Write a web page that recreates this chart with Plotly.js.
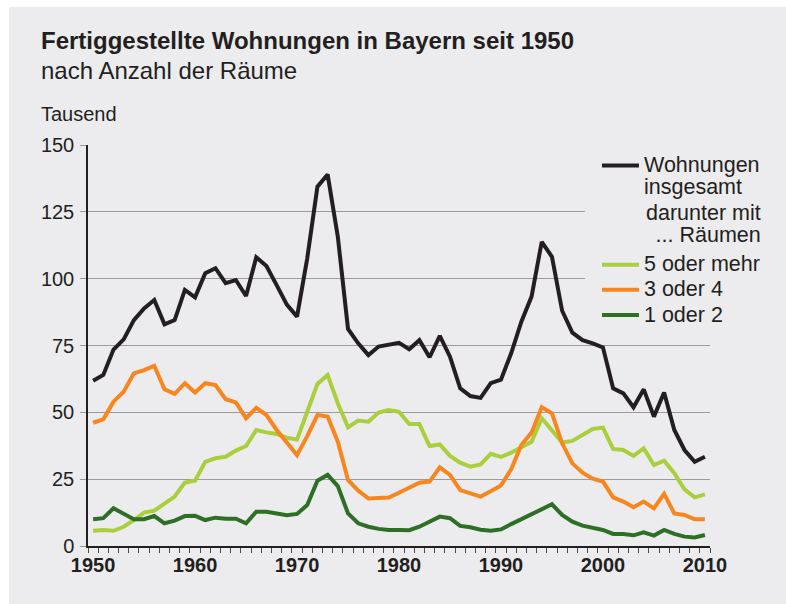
<!DOCTYPE html>
<html>
<head>
<meta charset="utf-8">
<script src="https://cdn.plot.ly/plotly-3.0.1.min.js"></script>
<style>
  html, body { margin: 0; padding: 0; background: #ffffff; width: 786px; height: 604px; overflow: hidden; }
  #chart { position: absolute; left: 9px; top: 7px; width: 777px; height: 597px; }
</style>
</head>
<body>
<div id="chart"></div>
<script>
// Years 1950..2010
const years = [1950,1951,1952,1953,1954,1955,1956,1957,1958,1959,
               1960,1961,1962,1963,1964,1965,1966,1967,1968,1969,
               1970,1971,1972,1973,1974,1975,1976,1977,1978,1979,
               1980,1981,1982,1983,1984,1985,1986,1987,1988,1989,
               1990,1991,1992,1993,1994,1995,1996,1997,1998,1999,
               2000,2001,2002,2003,2004,2005,2006,2007,2008,2009,2010];

// Wohnungen insgesamt (Tausend)
const totalFlats = [61.8,64.0,73.5,77.3,84.5,88.9,92.0,82.9,84.5,95.8,
                    93.0,102.0,103.9,98.3,99.5,93.5,108.0,104.7,97.6,90.3,
                    85.8,107.6,134.4,139.0,115.7,81.2,75.8,71.4,74.6,75.2,
                    76.0,73.6,77.0,70.6,78.6,70.8,59.0,56.1,55.4,60.9,
                    62.2,72.1,83.9,93.3,113.8,108.2,88.0,79.8,77.0,75.8,
                    74.3,59.0,57.1,51.9,58.6,48.4,57.4,43.4,35.9,31.5,33.4];

// 5 oder mehr Räume
const rooms5plus = [5.7,6.0,5.7,7.2,9.7,12.5,13.2,16.0,18.5,23.7,
                    24.4,31.5,32.8,33.4,35.7,37.4,43.4,42.5,41.9,40.5,
                    39.8,50.2,60.6,64.0,53.4,44.4,46.9,46.5,49.9,50.9,
                    50.2,45.6,45.6,37.4,38.0,33.7,31.2,29.7,30.5,34.5,
                    33.3,34.9,36.8,39.0,47.8,43.4,38.7,39.3,41.5,43.8,
                    44.3,36.3,35.9,33.7,36.5,30.3,31.9,27.2,21.2,18.2,19.3];

// 3 oder 4 Räume
const rooms3to4 = [46.1,47.4,54.0,57.7,64.6,65.8,67.4,58.6,56.9,60.9,
                   57.4,60.9,60.2,54.9,53.7,47.8,51.7,49.0,43.4,38.4,
                   34.0,41.1,49.0,48.4,39.0,24.7,20.7,17.8,17.8,18.1,
                   19.9,22.0,23.7,24.1,29.4,26.6,20.9,19.7,18.5,20.5,
                   22.6,28.7,37.8,42.4,51.9,49.6,38.4,30.9,27.4,25.2,
                   24.1,18.2,16.6,14.5,16.6,14.1,19.5,12.2,11.6,10.0,10.0];

// 1 oder 2 Räume
const rooms1to2 = [10.0,10.4,14.1,12.0,10.0,10.0,11.2,8.5,9.5,11.2,
                   11.3,9.7,10.6,10.2,10.2,8.5,12.8,12.8,12.0,11.5,
                   12.0,15.3,24.4,26.6,22.4,12.2,8.5,7.2,6.4,6.0,
                   6.0,5.9,7.2,9.1,11.0,10.4,7.5,7.0,6.1,5.7,
                   6.2,8.2,10.0,12.2,13.7,15.6,11.6,9.1,7.6,6.8,
                   6.0,4.5,4.5,4.0,5.1,3.9,6.0,4.5,3.5,3.2,4.1];

const seriesNames = ['Wohnungen<br>insgesamt', '5 oder mehr', '3 oder 4', '1 oder 2'];
const xTickVals = [1950,1960,1970,1980,1990,2000,2010];
const xTickText = ['1950','1960','1970','1980','1990','2000','2010'];
const yTickVals = [0,25,50,75,100,125,150];
const yTickText = ['0','25','50','75','100','125','150'];

const FONT = 'Liberation Sans, Arial, Helvetica, sans-serif';
const INK = '#231f20';
const BG = '#ececee';
const COLORS = ['#231f20', '#a9cf3c', '#f7861f', '#2e6f26'];

function bigText(s) {
  return s.split('<br>').map(p => '<span style="font-size:21.5px">' + p + '</span>').join('<br>');
}

const seriesData = [totalFlats, rooms5plus, rooms3to4, rooms1to2];
const traces = seriesData.map((vals, i) => ({
  type: 'scatter',
  mode: 'lines',
  x: years,
  y: vals,
  name: bigText(seriesNames[i]),
  legendgroup: i === 0 ? 'total' : 'rooms',
  line: { color: COLORS[i], width: 4 },
  hoverinfo: 'x+y'
}));

const layout = {
  width: 777,
  height: 597,
  margin: { l: 79, r: 76, t: 138, b: 58 },
  paper_bgcolor: BG,
  plot_bgcolor: BG,
  font: { family: FONT, color: INK, size: 20 },
  title: {
    text: '<b>Fertiggestellte Wohnungen in Bayern seit 1950</b>',
    font: { family: FONT, size: 24, color: INK },
    xref: 'container', yref: 'container',
    x: 0.0412, xanchor: 'left',
    y: 0.9430, yanchor: 'middle'
  },
  showlegend: true,
  legend: {
    x: 0.8183, xanchor: 'left',
    y: 0.9925, yanchor: 'top',
    bgcolor: 'rgba(0,0,0,0)',
    borderwidth: 0,
    font: { family: FONT, size: 17, color: INK },
    traceorder: 'grouped',
    tracegroupgap: 52,
    valign: 'top',
    itemwidth: 37
  },
  xaxis: {
    range: [1949.5, 2010.5],
    tickmode: 'array',
    tickvals: xTickVals,
    ticktext: xTickText,
    ticks: '',
    showgrid: false,
    zeroline: false,
    showline: true,
    linecolor: INK,
    linewidth: 1.5,
    tickfont: { family: FONT, size: 20, color: INK, weight: 'bold' },
    minor: { ticks: 'outside', tickmode: 'linear', tick0: 1949.5, dtick: 1, ticklen: 5, tickwidth: 1, tickcolor: '#4a4a4a', showgrid: false },
    fixedrange: true
  },
  yaxis: {
    range: [0, 150],
    tickmode: 'array',
    tickvals: yTickVals,
    ticktext: yTickText,
    ticks: 'outside',
    ticklen: 6,
    tickwidth: 1.3,
    tickcolor: '#9b9b9b',
    showgrid: true,
    gridcolor: '#9b9b9b',
    gridwidth: 1.3,
    zeroline: false,
    showline: true,
    linecolor: INK,
    linewidth: 1.5,
    ticklabelstandoff: 2,
    tickfont: { family: FONT, size: 20, color: INK },
    fixedrange: true
  },
  shapes: [
    { type: 'rect', xref: 'paper', yref: 'paper', x0: 0.799, x1: 1.03, y0: 0.526, y1: 1.02,
      fillcolor: BG, line: { width: 0 }, layer: 'above' }
  ],
  annotations: [
    { xref: 'paper', yref: 'paper', x: -0.0788, y: 1.187, xanchor: 'left', yanchor: 'middle',
      text: 'nach Anzahl der Räume', showarrow: false, font: { family: FONT, size: 24, color: INK } },
    { xref: 'paper', yref: 'paper', x: -0.0788, y: 1.0773, xanchor: 'left', yanchor: 'middle',
      text: 'Tausend', showarrow: false, font: { family: FONT, size: 20, color: INK } },
    { xref: 'paper', yref: 'paper', x: 1.0852, y: 0.8042, xanchor: 'right', yanchor: 'middle', align: 'right',
      text: bigText('darunter mit<br>... Räumen'), showarrow: false, font: { family: FONT, size: 17, color: INK } }
  ]
};

Plotly.newPlot('chart', traces, layout, { displayModeBar: false, staticPlot: false });
</script>
</body>
</html>
